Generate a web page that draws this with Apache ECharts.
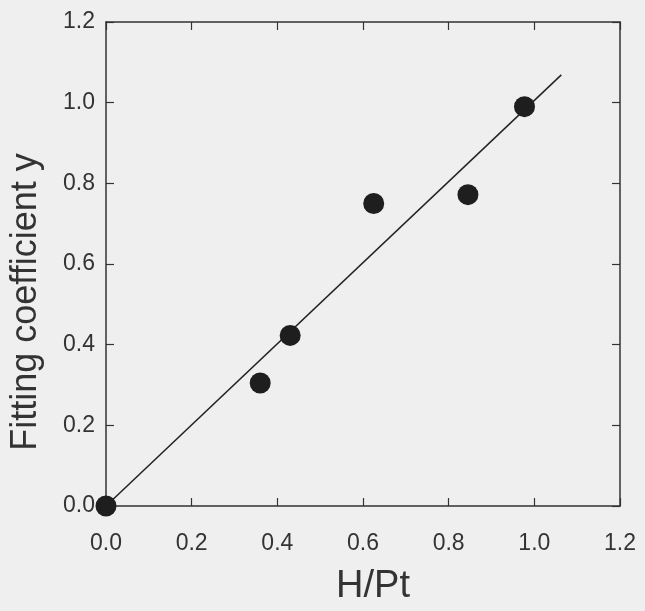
<!DOCTYPE html>
<html>
<head>
<meta charset="utf-8">
<script src="https://cdn.jsdelivr.net/npm/echarts@6/dist/echarts.min.js"></script>
<style>html,body{margin:0;padding:0;background:#efefef;overflow:hidden;width:645px;height:611px;}#c{width:645px;height:611px;display:block;}</style>
</head>
<body>
<div id="c"></div>
<script>
var hpt = [0.0, 0.36, 0.43, 0.625, 0.845, 0.977];
var fitY = [0.0, 0.305, 0.423, 0.75, 0.772, 0.99];
var fitLineX = [0.0, 1.063];
var fitLineY = [0.0, 1.069];
var tickVals = [0, 0.2, 0.4, 0.6, 0.8, 1.0, 1.2];

var points = hpt.map(function (x, i) { return [x, fitY[i]]; });
var line = fitLineX.map(function (x, i) { return [x, fitLineY[i]]; });

var chart = echarts.init(document.getElementById('c'));
var font = 'Liberation Sans, Arial, Helvetica, sans-serif';
function axisCommon(showLabel) {
  return {
    type: 'value', min: 0, max: 1.2, interval: 0.2,
    axisLine: { show: true, onZero: false, lineStyle: { color: '#333', width: 1.5 } },
    axisTick: { show: true, inside: true, length: 8, lineStyle: { color: '#333', width: 1.2 } },
    splitLine: { show: false },
    axisLabel: {
      show: showLabel, color: '#333', fontSize: 23, fontFamily: font,
      formatter: function (v) { return v.toFixed(1); }
    }
  };
}
var xb = axisCommon(true);
xb.position = 'bottom';
xb.name = 'H/Pt';
xb.nameLocation = 'middle';
xb.nameGap = 62;
xb.nameTextStyle = { fontSize: 38, color: '#333', fontFamily: font, padding: [0, 0, 0, 20] };
xb.axisLabel.margin = 26;
var xt = axisCommon(false); xt.position = 'top';
var yl = axisCommon(true);
yl.position = 'left';
yl.name = 'Fitting coefficient y';
yl.nameLocation = 'middle';
yl.nameGap = 62;
yl.nameTextStyle = { fontSize: 36, color: '#333', fontFamily: font, padding: [0, 76, 0, 0] };
yl.axisLabel.margin = 11;
var yr = axisCommon(false); yr.position = 'right';

chart.setOption({
  backgroundColor: '#efefef',
  animation: false,
  grid: { left: 104, top: 22, width: 516, height: 485, containLabel: false },
  xAxis: [xb, xt],
  yAxis: [yl, yr],
  series: [
    {
      type: 'line', data: line, xAxisIndex: 0, yAxisIndex: 0,
      showSymbol: false, symbol: 'none',
      lineStyle: { color: '#222', width: 1.5 }, z: 2
    },
    {
      type: 'scatter', data: points, xAxisIndex: 0, yAxisIndex: 0,
      symbolSize: 21, itemStyle: { color: '#1e1e1e', opacity: 1 }, z: 3, clip: false
    }
  ]
});
</script>
</body>
</html>
